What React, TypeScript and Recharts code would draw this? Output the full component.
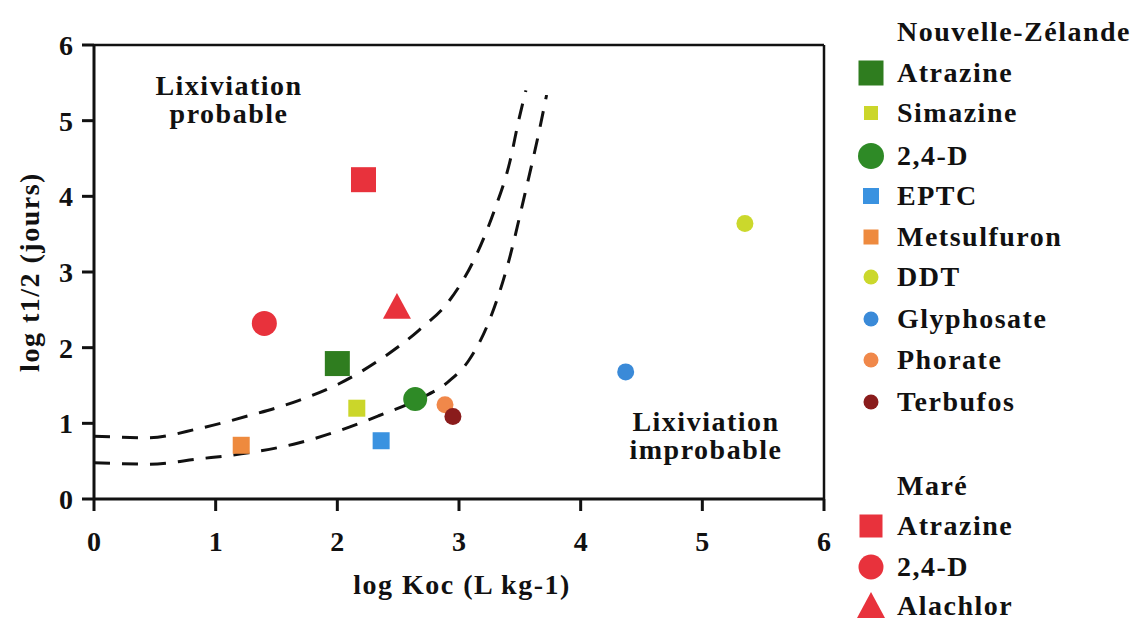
import React from 'react';
import { ComposedChart, Scatter, Line, XAxis, YAxis, ReferenceLine } from 'recharts';

// Nouvelle-Zélande pesticides
const nzNames = ['Atrazine', 'Simazine', '2,4-D', 'EPTC', 'Metsulfuron', 'DDT', 'Glyphosate', 'Phorate', 'Terbufos'];
const nzLogKoc = [2.0, 2.16, 2.64, 2.36, 1.21, 5.35, 4.37, 2.885, 2.95];
const nzLogT = [1.79, 1.2, 1.32, 0.77, 0.71, 3.64, 1.68, 1.245, 1.09];

// Maré pesticides
const mareNames = ['Atrazine', '2,4-D', 'Alachlor'];
const mareLogKoc = [2.215, 1.4, 2.49];
const mareLogT = [4.22, 2.32, 2.54];

// GUS boundary curves
const upperKoc = [0, 0.45, 0.86, 1.27, 1.68, 2.01, 2.34, 2.67, 2.92, 3.12, 3.29, 3.42, 3.49, 3.55];
const upperT = [0.83, 0.81, 0.93, 1.1, 1.3, 1.52, 1.83, 2.23, 2.62, 3.15, 3.81, 4.47, 5.0, 5.4];
const lowerKoc = [0, 0.45, 0.86, 1.27, 1.68, 2.01, 2.34, 2.67, 2.92, 3.08, 3.25, 3.41, 3.53, 3.66, 3.72];
const lowerT = [0.48, 0.46, 0.53, 0.61, 0.74, 0.9, 1.1, 1.32, 1.56, 1.83, 2.36, 3.15, 3.95, 4.87, 5.34];

const ticks = [0, 1, 2, 3, 4, 5, 6];

type Kind = 'square' | 'circle' | 'triangle';
const nzStyle: { kind: Kind; size: number; color: string; legendSize: number }[] = [
  { kind: 'square', size: 25, color: '#2f7d1f', legendSize: 25 },
  { kind: 'square', size: 17, color: '#cbd62a', legendSize: 14 },
  { kind: 'circle', size: 24, color: '#2e8a26', legendSize: 26 },
  { kind: 'square', size: 17, color: '#3a92e0', legendSize: 16 },
  { kind: 'square', size: 17, color: '#ee8a3e', legendSize: 15 },
  { kind: 'circle', size: 17, color: '#cbd82c', legendSize: 15 },
  { kind: 'circle', size: 17, color: '#3a8ad8', legendSize: 15 },
  { kind: 'circle', size: 17, color: '#f0884a', legendSize: 15 },
  { kind: 'circle', size: 17, color: '#8a1c1c', legendSize: 15 },
];
const mareStyle: { kind: Kind; size: number; color: string; legendSize: number }[] = [
  { kind: 'square', size: 25, color: '#e8323c', legendSize: 23 },
  { kind: 'circle', size: 25, color: '#e8323c', legendSize: 25 },
  { kind: 'triangle', size: 28, color: '#e8323c', legendSize: 28 },
];

const FONT = '"Liberation Serif", "Times New Roman", serif';

const Marker = ({ cx, cy, kind, size, color }: any) => {
  if (cx == null || cy == null) return null;
  const h = size / 2;
  if (kind === 'square') return <rect x={cx - h} y={cy - h} width={size} height={size} fill={color} />;
  if (kind === 'circle') return <circle cx={cx} cy={cy} r={h} fill={color} />;
  const th = size * 0.85;
  return (
    <polygon
      points={`${cx},${cy - th / 2 - 2} ${cx - h},${cy + th / 2} ${cx + h},${cy + th / 2}`}
      fill={color}
    />
  );
};

const toPoints = (xs: number[], ys: number[]) => xs.map((x, i) => ({ x, y: ys[i] }));

const textStyle: React.CSSProperties = {
  position: 'absolute',
  fontFamily: FONT,
  fontWeight: 'bold',
  fontSize: 28,
  letterSpacing: 1.5,
  color: '#111',
  lineHeight: '28px',
  whiteSpace: 'nowrap',
};

const LegendRow = ({ top, style, label }: any) => (
  <div style={{ position: 'absolute', left: 845, top: top - 20, height: 40, display: 'flex', alignItems: 'center' }}>
    <svg width={50} height={40}>
      <Marker cx={26} cy={20} kind={style.kind} size={style.legendSize} color={style.color} />
    </svg>
    <span style={{ ...textStyle, position: 'static', marginLeft: 2 }}>{label}</span>
  </div>
);

const nzLegendY = [73, 113, 156, 196, 237, 277, 319, 360, 402];
const mareLegendY = [526, 567, 606];

export default function App() {
  return (
    <div style={{ position: 'absolute', left: 0, top: 0, width: 1140, height: 621, background: '#fff' }}>
      <ComposedChart width={1140} height={621} margin={{ top: 45, right: 316, bottom: 62, left: 34 }}>
        <XAxis
          type="number"
          dataKey="x"
          domain={[0, 6]}
          ticks={ticks}
          allowDataOverflow
          axisLine={{ stroke: '#111', strokeWidth: 3 }}
          tickLine={{ stroke: '#111', strokeWidth: 3 }}
          tickSize={12}
          tickMargin={20}
          height={60}
          tick={{ fill: '#111', fontFamily: FONT, fontWeight: 'bold', fontSize: 28 }}
        />
        <YAxis
          type="number"
          dataKey="y"
          domain={[0, 6]}
          ticks={ticks}
          allowDataOverflow
          axisLine={{ stroke: '#111', strokeWidth: 3 }}
          tickLine={{ stroke: '#111', strokeWidth: 3 }}
          tickSize={12}
          tickMargin={9}
          width={60}
          tick={{ fill: '#111', fontFamily: FONT, fontWeight: 'bold', fontSize: 28 }}
        />
        <ReferenceLine y={6} stroke="#111" strokeWidth={2.5} />
        <ReferenceLine x={6} stroke="#111" strokeWidth={2.5} />
        <Line
          data={toPoints(upperKoc, upperT)}
          dataKey="y"
          type="monotone"
          dot={false}
          stroke="#111"
          strokeWidth={3}
          strokeDasharray="16 12"
          isAnimationActive={false}
        />
        <Line
          data={toPoints(lowerKoc, lowerT)}
          dataKey="y"
          type="monotone"
          dot={false}
          stroke="#111"
          strokeWidth={3}
          strokeDasharray="16 12"
          isAnimationActive={false}
        />
        {nzNames.map((name, i) => (
          <Scatter
            key={`nz-${name}`}
            name={`NZ ${name}`}
            data={[{ x: nzLogKoc[i], y: nzLogT[i] }]}
            isAnimationActive={false}
            shape={(p: any) => <Marker cx={p.cx} cy={p.cy} {...nzStyle[i]} />}
          />
        ))}
        {mareNames.map((name, i) => (
          <Scatter
            key={`mare-${name}`}
            name={`Maré ${name}`}
            data={[{ x: mareLogKoc[i], y: mareLogT[i] }]}
            isAnimationActive={false}
            shape={(p: any) => <Marker cx={p.cx} cy={p.cy} {...mareStyle[i]} />}
          />
        ))}
      </ComposedChart>

      {/* annotations */}
      <div style={{ ...textStyle, left: 129, top: 72, width: 200, textAlign: 'center' }}>
        Lixiviation<br />probable
      </div>
      <div style={{ ...textStyle, left: 606, top: 408, width: 200, textAlign: 'center' }}>
        Lixiviation<br />improbable
      </div>

      {/* axis titles */}
      <div style={{ ...textStyle, left: 262, top: 571, width: 400, textAlign: 'center' }}>log Koc (L kg-1)</div>
      <div
        style={{
          ...textStyle,
          left: 30 - 150,
          top: 272 - 14,
          width: 300,
          textAlign: 'center',
          transform: 'rotate(-90deg)',
        }}
      >
        log t1/2 (jours)
      </div>

      {/* legend */}
      <div style={{ ...textStyle, left: 897, top: 18 }}>Nouvelle-Zélande</div>
      {nzNames.map((name, i) => (
        <LegendRow key={`lnz-${name}`} top={nzLegendY[i]} style={nzStyle[i]} label={name} />
      ))}
      <div style={{ ...textStyle, left: 897, top: 472 }}>Maré</div>
      {mareNames.map((name, i) => (
        <LegendRow key={`lm-${name}`} top={mareLegendY[i]} style={mareStyle[i]} label={name} />
      ))}
    </div>
  );
}
